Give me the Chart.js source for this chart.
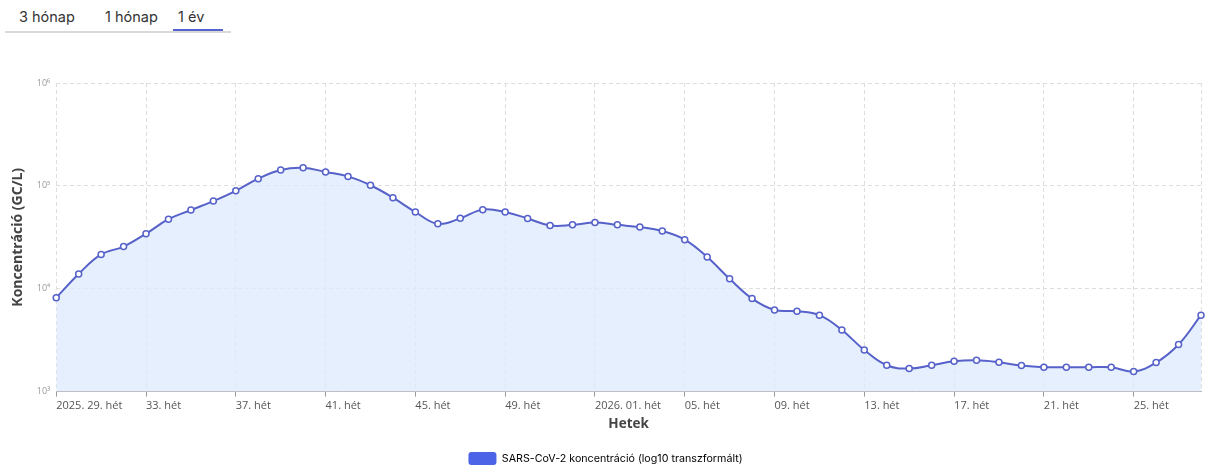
<!DOCTYPE html>
<html>
<head>
<meta charset="utf-8">
<script src="https://cdn.jsdelivr.net/npm/chart.js@4/dist/chart.umd.min.js"></script>
<style>
  html, body { margin: 0; padding: 0; background: #fff; width: 1213px; height: 475px; overflow: hidden; }
  .tabs { position: absolute; left: 5px; top: 0; width: 226px; height: 31px; border-bottom: 2px solid #d9d9d9; font-family: "Inter", "Noto Sans", sans-serif; font-size: 14.5px; color: #333; }
  .tab { position: absolute; top: 8px; }
  .tab.active::after { content: ""; position: absolute; left: -5px; right: -19px; top: 21px; height: 2px; background: #5563d1; }
  #wrap { position: absolute; left: 0; top: 44px; width: 1213px; height: 431px; }
</style>
</head>
<body>
<div class="tabs">
  <span class="tab" style="left:14px">3 hónap</span>
  <span class="tab" style="left:100px">1 hónap</span>
  <span class="tab active" style="left:173px">1 év</span>
</div>
<div id="wrap"><canvas id="c"></canvas></div>
<script>
// Weeks: 2025 week 29 .. 2026 week 28
const weeks2025 = [29,30,31,32,33,34,35,36,37,38,39,40,41,42,43,44,45,46,47,48,49,50,51,52];
const weeks2026 = [1,2,3,4,5,6,7,8,9,10,11,12,13,14,15,16,17,18,19,20,21,22,23,24,25,26,27,28];
// log10 of SARS-CoV-2 concentration (GC/L)
const logValues = [
  3.913, 4.144, 4.333, 4.410, 4.535, 4.676, 4.765, 4.852, 4.952, 5.070,
  5.154, 5.176, 5.135, 5.092, 5.006, 4.885, 4.746, 4.631, 4.684, 4.769,
  4.746, 4.683, 4.615, 4.621, 4.644, 4.621, 4.599, 4.561, 4.477, 4.308,
  4.096, 3.904, 3.794, 3.782, 3.743, 3.599, 3.404, 3.256, 3.224, 3.256,
  3.294, 3.304, 3.285, 3.253, 3.237, 3.237, 3.237, 3.237, 3.195, 3.282,
  3.458, 3.743
];
const yTickLabels = { 3: '10³', 4: '10⁴', 5: '10⁵', 6: '10⁶' };

const pad = n => String(n).padStart(2, '0');
const labels = [
  ...weeks2025.map((w, i) => (i === 0 ? '2025. ' : '') + pad(w) + '. hét'),
  ...weeks2026.map((w, i) => (i === 0 ? '2026. ' : '') + pad(w) + '. hét')
];
const lastIdx = labels.length - 1;
const showGrid = i => i % 4 === 0 || i === lastIdx;

new Chart(document.getElementById('c'), {
  type: 'line',
  data: {
    labels,
    datasets: [{
      label: 'SARS-CoV-2 koncentráció (log10 transzformált)',
      data: logValues,
      borderColor: '#5662c9',
      backgroundColor: 'rgba(222,233,252,0.75)',
      fill: 'start',
      tension: 0.4,
      borderWidth: 2,
      pointRadius: 3,
      pointBorderWidth: 1.5,
      pointBackgroundColor: '#fff',
      pointBorderColor: '#5662c9'
    }]
  },
  options: {
    responsive: true,
    maintainAspectRatio: false,
    animation: false,
    layout: { padding: { left: 10, right: 12, top: 39, bottom: 0 } },
    plugins: {
      tooltip: { enabled: false },
      legend: {
        position: 'bottom',
        labels: {
          boxWidth: 28, boxHeight: 13, padding: 18,
          color: '#666',
          font: { family: 'Inter, "Noto Sans", sans-serif', size: 10.7 },
          generateLabels: chart => chart.data.datasets.map((d, i) => ({
            text: d.label, fillStyle: '#4b63e6', strokeStyle: '#4b63e6', lineWidth: 0,
            borderRadius: 3, datasetIndex: i, hidden: false
          }))
        }
      }
    },
    scales: {
      x: {
        grid: {
          color: c => showGrid(c.index) ? '#dedede' : 'rgba(0,0,0,0)',
          tickColor: c => showGrid(c.index) && c.index !== lastIdx ? '#999' : 'rgba(0,0,0,0)',
          tickLength: 5, tickBorderDash: [], lineWidth: 1
        },
        border: { display: true, color: '#bbb', dash: [4, 3] },
        ticks: {
          autoSkip: false, maxRotation: 0, align: 'start', padding: 3,
          color: '#555',
          font: { family: '"Open Sans", sans-serif', size: 11 },
          callback: (v, i) => i % 4 === 0 ? labels[i] : ''
        },
        title: {
          display: true, text: 'Hetek', color: '#444',
          font: { family: '"Open Sans", sans-serif', size: 13.5, weight: 'bold' },
          padding: { top: 0, bottom: 2 }
        }
      },
      y: {
        min: 3, max: 6,
        grid: { color: '#dedede', drawTicks: false },
        border: { display: false, dash: [4, 3] },
        ticks: {
          stepSize: 1, padding: 6, color: '#999',
          font: { family: '"Open Sans", sans-serif', size: 9 },
          callback: v => yTickLabels[v] || ''
        },
        title: {
          display: true, text: 'Koncentráció (GC/L)', color: '#444',
          font: { family: '"Open Sans", sans-serif', size: 14, weight: 'bold' },
          padding: { top: 0, bottom: 4 }
        }
      }
    }
  }
});
</script>
</body>
</html>
